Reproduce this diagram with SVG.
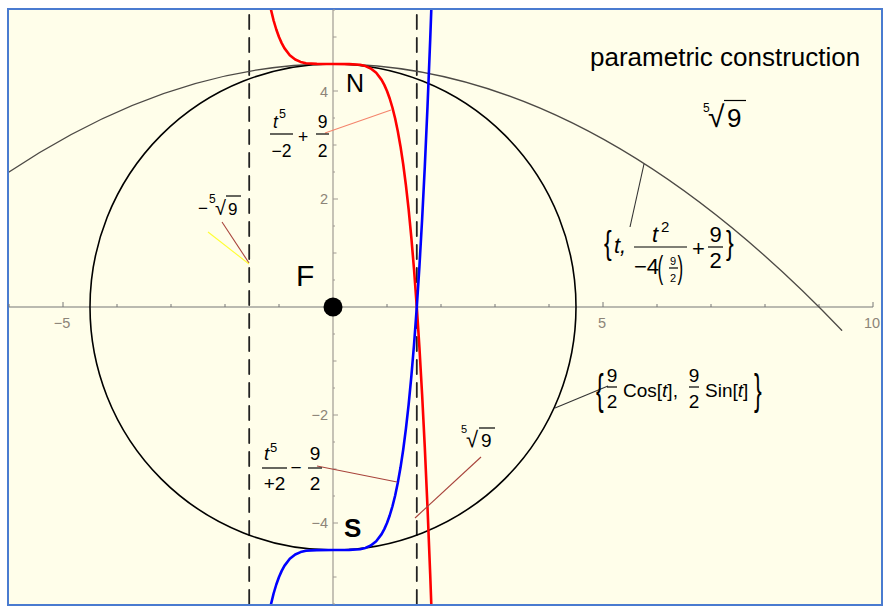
<svg xmlns="http://www.w3.org/2000/svg" width="886" height="608" viewBox="0 0 886 608">
<style>
text{font-family:"Liberation Sans","DejaVu Sans",Arial,sans-serif;fill:#000}
.it{font-style:italic}
.c{text-anchor:middle}
.e{text-anchor:end}
.tk{font-size:14.5px;fill:#8c8478}
.bar{stroke:#000;stroke-width:1.2}
.lead{fill:none;stroke-width:1.1}
</style>
<defs>
<clipPath id="plot"><rect x="9" y="10" width="872" height="594"/></clipPath>
</defs>
<rect x="0" y="0" width="886" height="608" fill="#ffffff"/>
<rect id="frame" x="8" y="9" width="874" height="596" fill="#fffeea" stroke="#4a7bd0" stroke-width="2"/>
<g id="axes" fill="none">
<line x1="9" y1="307" x2="873" y2="307" stroke="#777" stroke-width="1.2"/>
<line x1="333" y1="10" x2="333" y2="604" stroke="#a09a92" stroke-width="1.2"/>
<path stroke="#777" stroke-width="1" d="M9 307v-3M63 307v-5M117 307v-3M171 307v-3M225 307v-3M279 307v-3M387 307v-3M441 307v-3M495 307v-3M549 307v-3M603 307v-5M657 307v-3M711 307v-3M765 307v-3M819 307v-3M873 307v-5"/>
<path stroke="#a09a92" stroke-width="1" d="M333 10h2M333 37h3.5M333 64h2M333 91h5M333 118h2M333 145h3.5M333 172h2M333 199h5M333 226h2M333 253h3.5M333 280h2M333 334h2M333 361h3.5M333 388h2M333 415h5M333 442h2M333 469h3.5M333 496h2M333 523h5M333 550h2M333 577h3.5M333 604h2"/>
</g>
<g id="tick-labels">
<text class="tk c" x="62" y="328">−5</text>
<text class="tk c" x="602" y="328">5</text>
<text class="tk c" x="872" y="328">10</text>
<text class="tk e" x="328" y="97">4</text>
<text class="tk e" x="328" y="204">2</text>
<text class="tk e" x="328" y="420">−2</text>
<text class="tk e" x="328" y="528">−4</text>
</g>
<g id="curves" clip-path="url(#plot)" fill="none" stroke-linejoin="round" stroke-linecap="round">
<g id="dashed-lines" stroke="#222" stroke-width="1.8" stroke-dasharray="14 9">
<line x1="249.2" y1="15" x2="249.2" y2="605"/>
<line x1="416.8" y1="15" x2="416.8" y2="605"/>
</g>
<path id="parabola" d="M7.9,172.7 Q424.8,-106.1 841.7,330.2" stroke="#4d4a46" stroke-width="1.3"/>
<circle id="circle" cx="333" cy="307" r="243" stroke="#000" stroke-width="1.6"/>
<polyline id="red-curve" stroke="#ff0000" stroke-width="2.6" points="270.4,7.3 273.6,20.5 276.3,29.5 279,37 281.7,43.1 284.4,48.1 289.8,55.2 295.2,59.5 300.6,61.9 306,63.2 316.8,63.9 333,64 349.2,64.1 360,64.8 365.4,66.1 370.8,68.5 376.2,72.8 381.6,79.9 384.3,84.9 387,91 389.7,98.5 392.4,107.5 395.1,118.3 397.8,131.2 400.5,146.4 403.2,164.2 405.9,185.1 408.6,209.2 411.3,237.1 414,269 416.7,305.6 419.4,347.1 422.1,394.2 424.8,447.4 427.5,507.2 430.2,574.2 431.8,618.1"/>
<polyline id="blue-curve" stroke="#0000ff" stroke-width="2.6" points="270.4,606.7 273.6,593.5 276.3,584.5 279,577 281.7,570.9 284.4,565.9 289.8,558.8 295.2,554.5 300.6,552.1 306,550.8 316.8,550.1 333,550 349.2,549.9 360,549.2 365.4,547.9 370.8,545.5 376.2,541.2 381.6,534.1 384.3,529.1 387,523 389.7,515.5 392.4,506.5 395.1,495.7 397.8,482.8 400.5,467.6 403.2,449.8 405.9,428.9 408.6,404.8 411.3,376.9 414,345 416.7,308.4 419.4,266.9 422.1,219.8 424.8,166.6 427.5,106.8 430.2,39.8 431.8,-4.1"/>
</g>
<circle id="F-point" cx="333" cy="307" r="9.5" fill="#000"/>
<g id="connectors" class="lead">
<line x1="325" y1="133" x2="391" y2="110" stroke="#f4846c"/>
<line x1="222" y1="222" x2="249" y2="263" stroke="#a8443c"/>
<line x1="208" y1="232" x2="249" y2="264" stroke="#ffff33"/>
<line x1="317" y1="466" x2="397" y2="482" stroke="#a8443c"/>
<line x1="481" y1="457" x2="415" y2="518" stroke="#a8443c"/>
<line x1="630" y1="227" x2="644" y2="164" stroke="#333"/>
<line x1="555" y1="408" x2="608" y2="386" stroke="#333"/>
</g>
<g id="title">
<text x="590" y="66" font-size="26">parametric construction</text>
</g>
<g id="title-root">
<text x="703" y="112" font-size="12">5</text>
<text x="708" y="127" font-size="30">√</text>
<line x1="724" y1="100.5" x2="746" y2="100.5" class="bar"/>
<text x="727" y="127" font-size="26">9</text>
</g>
<g id="label-N"><text x="346" y="92" font-size="25">N</text></g>
<g id="label-S"><text x="344" y="537" font-size="26" font-weight="bold">S</text></g>
<g id="label-F"><text x="296" y="286" font-size="30">F</text></g>
<g id="label-red" font-size="17.5">
<text class="it" x="273" y="128">t</text>
<text x="279" y="118" font-size="12.5">5</text>
<line class="bar" x1="270" y1="134" x2="293" y2="134"/>
<text class="c" x="281.5" y="157">−2</text>
<text class="c" x="303" y="143">+</text>
<text class="c" x="322.5" y="127.5">9</text>
<line class="bar" x1="316" y1="134" x2="329" y2="134"/>
<text class="c" x="322.5" y="157">2</text>
</g>
<g id="label-neg-root">
<text x="198" y="214" font-size="17">−</text>
<text x="209" y="203" font-size="12">5</text>
<text x="215" y="215" font-size="20">√</text>
<line x1="226" y1="196" x2="241" y2="196" class="bar"/>
<text x="228" y="215" font-size="17">9</text>
</g>
<g id="label-blue" font-size="19">
<text class="it" x="264" y="460">t</text>
<text x="270" y="452" font-size="13">5</text>
<line class="bar" x1="262" y1="468" x2="287" y2="468"/>
<text class="c" x="274.5" y="490">+2</text>
<text class="c" x="296" y="474">−</text>
<text class="c" x="315" y="460">9</text>
<line class="bar" x1="308" y1="468" x2="322" y2="468"/>
<text class="c" x="315" y="490">2</text>
</g>
<g id="label-root">
<text x="461" y="433" font-size="11">5</text>
<text x="466" y="447" font-size="22">√</text>
<line x1="479" y1="428" x2="495" y2="428" class="bar"/>
<text x="481" y="447" font-size="19">9</text>
</g>
<g id="label-parabola" font-size="22">
<text transform="translate(604,254) scale(0.7,1)" font-size="33">{</text>
<text class="it" x="614" y="253">t,</text>
<text class="it" x="652" y="242">t</text>
<text x="661" y="232" font-size="15">2</text>
<line class="bar" x1="634" y1="247" x2="687" y2="247"/>
<text x="634" y="274">−4</text>
<text transform="translate(657.5,277.6) scale(0.55,1)" font-size="31">(</text>
<text class="c" x="673" y="265" font-size="11">9</text>
<line class="bar" x1="669" y1="268" x2="678" y2="268" stroke-width="0.8"/>
<text class="c" x="673" y="282" font-size="11">2</text>
<text transform="translate(677.5,277.6) scale(0.55,1)" font-size="31">)</text>
<text class="c" x="698.5" y="255.5">+</text>
<text class="c" x="715.5" y="242">9</text>
<line class="bar" x1="708" y1="247" x2="723" y2="247"/>
<text class="c" x="715.5" y="268">2</text>
<text transform="translate(726,254) scale(0.7,1)" font-size="33">}</text>
</g>
<g id="label-circle" font-size="19">
<text transform="translate(596,403.7) scale(0.55,1)" font-size="42">{</text>
<text class="c" x="612" y="382">9</text>
<line class="bar" x1="607" y1="387" x2="617" y2="387"/>
<text class="c" x="612" y="408">2</text>
<text x="623" y="396.5">Cos[<tspan class="it">t</tspan>],</text>
<text class="c" x="694" y="382">9</text>
<line class="bar" x1="689" y1="387" x2="699" y2="387"/>
<text class="c" x="694" y="408">2</text>
<text x="705" y="396.5">Sin[<tspan class="it">t</tspan>]</text>
<text transform="translate(754,403.7) scale(0.55,1)" font-size="42">}</text>
</g>
</svg>
